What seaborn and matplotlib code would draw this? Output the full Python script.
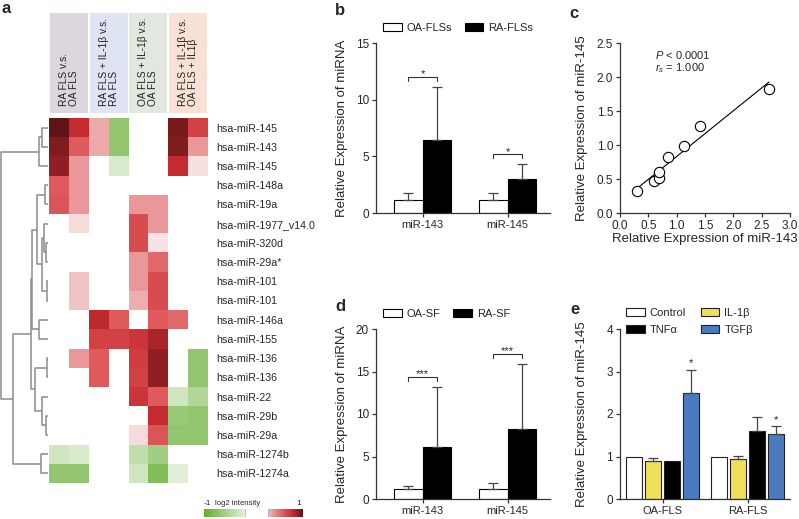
import numpy as np
import pandas as pd
import matplotlib
matplotlib.use("Agg")
import matplotlib.pyplot as plt
from matplotlib.colors import LinearSegmentedColormap
from matplotlib.patches import Rectangle, Patch
import seaborn as sns

# ---------------- data ----------------

# panel a: miRNA array, log2 intensity (nan = not changed)
mirnas = ["hsa-miR-145", "hsa-miR-143", "hsa-miR-145", "hsa-miR-148a", "hsa-miR-19a",
          "hsa-miR-1977_v14.0", "hsa-miR-320d", "hsa-miR-29a*", "hsa-miR-101", "hsa-miR-101",
          "hsa-miR-146a", "hsa-miR-155", "hsa-miR-136", "hsa-miR-136", "hsa-miR-22",
          "hsa-miR-29b", "hsa-miR-29a", "hsa-miR-1274b", "hsa-miR-1274a"]
comparisons = ["RA FLS v.s.\nOA FLS", "RA FLS + IL-1β v.s.\nRA FLS",
               "OA FLS + IL-1β v.s.\nOA FLS", "RA FLS + IL-1β v.s.\nOA FLS + IL1β"]
comparison_colors = ["#ddd6de", "#dfe4f3", "#e3e8de", "#f8e2d7"]
n = np.nan
log2_intensity = [
    [1.0, 0.8, 0.35, -0.7, n, n, 0.95, 0.7],
    [0.93, 0.6, 0.35, -0.7, n, n, 0.93, 0.4],
    [0.9, 0.4, n, -0.25, n, n, 0.8, 0.13],
    [0.6, 0.4, n, n, n, n, n, n],
    [0.62, 0.4, n, n, 0.4, 0.4, n, n],
    [n, 0.15, n, n, 0.65, 0.4, n, n],
    [n, n, n, n, 0.65, 0.12, n, n],
    [n, n, n, n, 0.4, 0.55, n, n],
    [n, 0.25, n, n, 0.4, 0.65, n, n],
    [n, 0.25, n, n, 0.33, 0.65, n, n],
    [n, n, 0.82, 0.6, n, 0.6, 0.55, n],
    [n, n, 0.7, 0.7, 0.75, 0.85, n, n],
    [n, 0.4, 0.6, n, 0.72, 0.9, n, -0.7],
    [n, n, 0.6, n, 0.7, 0.9, n, -0.7],
    [n, n, n, n, 0.75, 0.6, -0.3, -0.5],
    [n, n, n, n, n, 0.8, -0.65, -0.7],
    [n, n, n, n, 0.15, 0.62, -0.7, -0.7],
    [-0.3, -0.25, n, n, -0.4, -0.6, n, n],
    [-0.7, -0.7, n, n, -0.3, -0.8, -0.2, n],
]
# row dendrogram: (child a, child b, merge height), new node ids start at 19
linkage = [
    (0, 1, 6.0), (19, 2, 9.0), (3, 4, 2.3), (6, 7, 1.5), (5, 22, 3.5),
    (8, 9, 1.0), (23, 24, 5.7), (21, 25, 10.7), (10, 11, 9.0), (26, 27, 15.7),
    (12, 13, 1.0), (15, 16, 2.0), (14, 30, 5.7), (29, 31, 12.3), (28, 32, 17.3),
    (17, 18, 6.3), (33, 34, 35.7), (20, 35, 47.3),
]

# panel b: FLSs
b_genes = ["miR-143", "miR-145"]
b_cells = ["OA-FLSs", "RA-FLSs"]
b_mean = [[1.15, 1.15], [6.45, 3.0]]
b_sd = [[0.65, 0.65], [4.65, 1.3]]
b_sig = ["*", "*"]

# panel c: correlation
c_mir143 = [0.3, 0.6, 0.68, 0.68, 0.84, 1.13, 1.41, 2.63]
c_mir145 = [0.33, 0.47, 0.51, 0.61, 0.82, 0.98, 1.28, 1.83]

# panel d: synovial fluid
d_genes = ["miR-143", "miR-145"]
d_cells = ["OA-SF", "RA-SF"]
d_mean = [[1.14, 1.14], [6.15, 8.2]]
d_sd = [[0.43, 0.71], [7.05, 7.7]]
d_sig = ["***", "***"]

# panel e: cytokine stimulation
e_cells = ["OA-FLS", "RA-FLS"]
e_treat = ["Control", "IL-1β", "TNFα", "TGFβ"]
e_colors = ["white", "#f0df5c", "black", "#4b7bbf"]
e_mean = [[1.0, 1.0], [0.9, 0.95], [0.9, 1.61], [2.49, 1.54]]
e_sd = [[0, 0], [0.07, 0.07], [0, 0.33], [0.55, 0.17]]
e_sig = [["", ""], ["", ""], ["", ""], ["*", "*"]]

# ---------------- style ----------------
sns.set_style("ticks")
plt.rcParams["font.family"] = ["Liberation Sans", "DejaVu Sans"]
plt.rcParams["mathtext.fontset"] = "custom"
plt.rcParams["mathtext.rm"] = "Liberation Sans"
plt.rcParams["mathtext.it"] = "Liberation Sans:italic"
AX = "#333333"

W, H = 799, 519
fig = plt.figure(figsize=(W / 100, H / 100), dpi=100)


def px_axes(x0, y0, x1, y1):
    return fig.add_axes([x0 / W, 1 - y1 / H, (x1 - x0) / W, (y1 - y0) / H])


cmap = LinearSegmentedColormap.from_list(
    "gr", [(0.0, "#62ad30"), (0.5, "white"), (0.65, "#efb8b9"),
           (0.8, "#de5a5c"), (0.9, "#c62a2e"), (1.0, "#5e1517")])

# ---------------- panel a ----------------
ax_hm = px_axes(49, 118, 208, 483)
sns.heatmap(np.array(log2_intensity), cmap=cmap, vmin=-1, vmax=1, cbar=False,
            xticklabels=False, yticklabels=mirnas, ax=ax_hm)
ax_hm.yaxis.tick_right()
ax_hm.tick_params(axis="y", length=0, pad=6, labelsize=7.7, rotation=0)

ax_dg = px_axes(0, 118, 49, 483)
pos = {i: i + 0.5 for i in range(len(mirnas))}
hgt = {i: 0.0 for i in range(len(mirnas))}
for k, (a, b, h) in enumerate(linkage):
    node = len(mirnas) + k
    ax_dg.plot([hgt[a], h, h, hgt[b]], [pos[a], pos[a], pos[b], pos[b]],
               color="#8c8c8c", lw=1.1, solid_capstyle="butt")
    pos[node] = (pos[a] + pos[b]) / 2
    hgt[node] = h
ax_dg.set_xlim(48.5, -1.5)
ax_dg.set_ylim(len(mirnas), 0)
ax_dg.axis("off")

ax_hd = px_axes(49, 13, 208, 113)
ax_hd.set_xlim(0, 2 * len(comparisons))
ax_hd.set_ylim(0, 1)
for g, (lab, col) in enumerate(zip(comparisons, comparison_colors)):
    ax_hd.add_patch(Rectangle((2 * g + 0.05, 0), 1.9, 1, color=col, lw=0))
    ax_hd.text(2 * g + 1, 0.07, lab, rotation=90, ha="center", va="bottom",
               multialignment="left", fontsize=7.3, linespacing=1.0, color="#222")
ax_hd.axis("off")

ax_cb = px_axes(204, 509, 302, 517)
grad = np.linspace(-1, 1, 256)
grad = np.ma.masked_where((grad > -0.16) & (grad < 0.3), grad)
ax_cb.imshow(grad.reshape(1, -1), cmap=cmap, vmin=-1, vmax=1, aspect="auto")
ax_cb.axis("off")
ax_cb.text(0.03, 1.25, "-1", transform=ax_cb.transAxes, ha="center", va="bottom", fontsize=6)
ax_cb.text(0.34, 1.25, "log2 intensity", transform=ax_cb.transAxes, ha="center", va="bottom", fontsize=5.5)
ax_cb.text(0.97, 1.25, "1", transform=ax_cb.transAxes, ha="center", va="bottom", fontsize=6)


# ---------------- bar panels ----------------
def style_axes(ax):
    sns.despine(ax=ax)
    for s in ["left", "bottom"]:
        ax.spines[s].set_color(AX)
        ax.spines[s].set_linewidth(0.9)
    ax.tick_params(length=3, width=0.9, color=AX, labelsize=8.5, pad=2)
    ax.set_xlabel("")


def add_errbars(ax, sd, sig=None, ymax=1):
    for ci, (cont, errs) in enumerate(zip(ax.containers, sd)):
        for bi, (bar, e) in enumerate(zip(cont, errs)):
            xc = bar.get_x() + bar.get_width() / 2
            top = bar.get_height()
            if e > 0:
                ax.errorbar(xc, top, yerr=[[0], [e]], fmt="none", ecolor="#444",
                            elinewidth=0.9, capsize=3.5, capthick=0.9, zorder=3)
            if sig is not None and sig[ci][bi]:
                ax.text(xc, top + e + 0.01 * ymax, sig[ci][bi], ha="center",
                        va="bottom", fontsize=8)


def mirna_panel(ax, genes, cells, mean, sd, sig, ymax, step):
    df = pd.DataFrame({"gene": np.tile(genes, len(cells)),
                       "cell": np.repeat(cells, len(genes)),
                       "value": np.ravel(mean)})
    sns.barplot(data=df, x="gene", y="value", hue="cell", hue_order=cells,
                palette=["white", "black"], saturation=1, edgecolor="black",
                linewidth=0.8, width=0.67, errorbar=None, legend=False, ax=ax)
    add_errbars(ax, sd)
    for i, s in enumerate(sig):
        b0, b1 = ax.containers[0][i], ax.containers[1][i]
        xa = b0.get_x() + b0.get_width() / 2
        xb = b1.get_x() + b1.get_width() / 2
        y = max(mean[0][i] + sd[0][i], mean[1][i] + sd[1][i]) + 0.06 * ymax
        ax.plot([xa, xa, xb, xb], [y - 0.025 * ymax, y, y, y - 0.025 * ymax],
                color="#333", lw=0.8)
        ax.text((xa + xb) / 2, y - 0.015 * ymax, s, ha="center", va="bottom", fontsize=8)
    ax.set_xlim(-0.55, 1.5)
    ax.set_ylim(0, ymax)
    ax.set_yticks(np.arange(0, ymax + 0.1, step))
    style_axes(ax)
    ax.tick_params(axis="x", labelsize=8)
    ax.set_ylabel("Relative Expression of miRNA", fontsize=9.5)
    ax.yaxis.set_label_coords(-0.16, 0.5)
    handles = [Patch(facecolor=c, edgecolor="black", lw=0.8) for c in ["white", "black"]]
    ax.legend(handles, cells, loc="lower left", bbox_to_anchor=(0.04, 1.06), ncol=2,
              frameon=False, fontsize=8, handlelength=1.7, handleheight=0.85,
              handletextpad=0.45, columnspacing=1.1, borderpad=0, borderaxespad=0)


ax_b = px_axes(376, 43, 550, 213)
mirna_panel(ax_b, b_genes, b_cells, b_mean, b_sd, b_sig, 15, 5)

ax_d = px_axes(376, 329, 550, 499)
mirna_panel(ax_d, d_genes, d_cells, d_mean, d_sd, d_sig, 20, 5)

# panel c
ax_c = px_axes(620, 43, 790, 213)
sns.regplot(x=c_mir143, y=c_mir145, ci=None, color="black", ax=ax_c,
            scatter_kws=dict(s=55, facecolors="white", edgecolors="black",
                             linewidths=0.8, alpha=1, zorder=3),
            line_kws=dict(color="black", lw=0.8))
ax_c.set_xlim(0, 3)
ax_c.set_ylim(0, 2.5)
ax_c.set_xticks(np.arange(0, 3.01, 0.5))
ax_c.set_yticks(np.arange(0, 2.51, 0.5))
ax_c.xaxis.set_major_formatter("{x:.1f}")
ax_c.yaxis.set_major_formatter("{x:.1f}")
style_axes(ax_c)
ax_c.set_xlabel("Relative Expression of miR-143", fontsize=9.5)
ax_c.xaxis.set_label_coords(0.5, -0.12)
ax_c.set_ylabel("Relative Expression of miR-145", fontsize=9.5)
ax_c.yaxis.set_label_coords(-0.188, 0.5)
ax_c.text(0.206, 0.93, "$P$ < 0.0001", transform=ax_c.transAxes, ha="left", va="center", fontsize=8)
ax_c.text(0.206, 0.85, "$r_s$ = 1.000", transform=ax_c.transAxes, ha="left", va="center", fontsize=8)

# panel e
ax_e = px_axes(620, 329, 790, 499)
df_e = pd.DataFrame({"cell": np.tile(e_cells, len(e_treat)),
                     "treat": np.repeat(e_treat, len(e_cells)),
                     "value": np.ravel(e_mean)})
sns.barplot(data=df_e, x="cell", y="value", hue="treat", hue_order=e_treat,
            palette=e_colors, saturation=1, edgecolor="#222", linewidth=0.8,
            width=0.9, gap=0.17, errorbar=None, legend=False, ax=ax_e)
add_errbars(ax_e, e_sd, e_sig, 4)
ax_e.set_xlim(-0.5, 1.5)
ax_e.set_ylim(0, 4)
ax_e.set_yticks(range(5))
style_axes(ax_e)
ax_e.tick_params(axis="x", labelsize=8)
ax_e.set_ylabel("Relative Expression of miR-145", fontsize=9.5)
ax_e.yaxis.set_label_coords(-0.188, 0.5)
order = [0, 2, 1, 3]
handles = [Patch(facecolor=e_colors[i], edgecolor="#222", lw=0.8) for i in order]
ax_e.legend(handles, [e_treat[i] for i in order], loc="upper left",
            bbox_to_anchor=(0.035, 1.125), ncol=2, frameon=False, fontsize=8,
            handlelength=1.7, handleheight=0.8, handletextpad=0.45,
            columnspacing=1.3, labelspacing=0.6, borderpad=0, borderaxespad=0)

# panel letters
for lab, x, y in [("a", 2, 13), ("b", 335, 15), ("c", 569, 18), ("d", 335, 311), ("e", 570, 314)]:
    fig.text(x / W, 1 - y / H, lab, fontsize=12, fontweight="bold", va="baseline")

fig.savefig("out.png", dpi=100)
